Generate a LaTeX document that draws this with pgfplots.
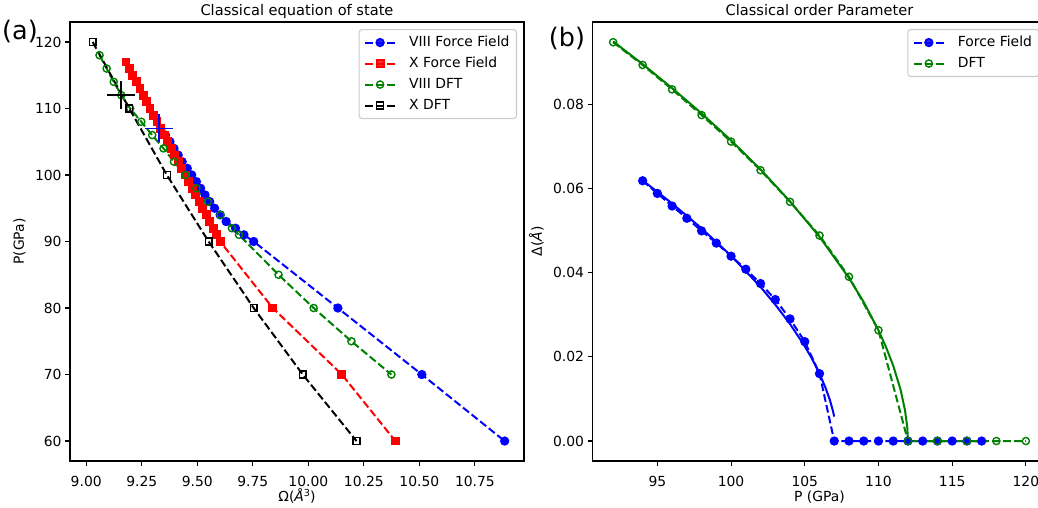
\documentclass[border=0pt]{standalone}
\usepackage{fontspec}
\setmainfont{DejaVu Sans}
\usepackage{pgfplots}
\pgfplotsset{compat=1.18}
\definecolor{mplgreen}{rgb}{0,0.5,0}
\tikzset{mpldash/.style={dash pattern=on 7.7pt off 3.3pt}}
\pgfplotsset{
  mplaxis/.style={
    scale only axis, width=454pt, height=439pt, anchor=south west,
    axis line style={line width=1.1pt, black},
    tick align=outside, tick pos=left,
    major tick length=4.9pt,
    every tick/.style={line width=1.1pt, black},
    /pgf/number format/assume math mode=true,
    tick label style={font=\fontsize{13.9}{16}\selectfont},
    xticklabel style={inner sep=1pt},
    xticklabel shift=9.1pt,
    label style={font=\fontsize{13.9}{16}\selectfont},
    xlabel style={at={(axis description cs:0.5,0)}, anchor=base, yshift=-40pt, inner sep=1pt},
    ylabel shift=2.5pt,
    title style={font=\fontsize{14.6}{17}\selectfont, at={(0.5,1)}, anchor=base, yshift=0.5pt},
    legend cell align=left,
    legend style={at={(1,1)}, anchor=north east, xshift=-7pt, yshift=-7pt,
      draw=black!20, line width=1.1pt, fill=white, fill opacity=0.8, text opacity=1,
      rounded corners=3pt, font=\fontsize{13.9}{16}\selectfont,
      inner xsep=5pt, inner ysep=4pt, row sep=3pt, column sep=11pt,
      nodes={inner sep=2pt, text depth=3.5pt, text height=10.5pt}},
    legend image code/.code={\draw[mark repeat=2, mark phase=2, ##1] plot coordinates {(0pt,0pt) (15pt,0pt) (30pt,0pt)};},
  },
}
\begin{document}
\begin{tikzpicture}[x=1pt,y=1pt]
\path[use as bounding box] (0,0) rectangle (1038,507);
\node[font=\fontsize{25.5}{30}\selectfont] at (20,475) {(a)};
\node[font=\fontsize{25.5}{30}\selectfont] at (567,469) {(b)};
% ---------------- left panel ----------------
\begin{axis}[mplaxis, at={(70pt,46pt)},
  xmin=8.927, xmax=10.971, ymin=57, ymax=123,
  xtick={9,9.25,9.5,9.75,10,10.25,10.5,10.75},
  xticklabel={\pgfmathprintnumber[fixed,fixed zerofill,precision=2]{\tick}},
  ytick={60,70,80,90,100,110,120},
  xlabel={Ω(\textit{Å}\raisebox{0.36em}{\fontsize{9.7}{10}\selectfont 3})},
  ylabel={P(GPa)},
  title={Classical equation of state}]
\addplot[blue, line width=2pt, mpldash, mark=*, mark size=3.6pt, mark options={solid, fill=blue, draw=blue}] coordinates {
(9.357,106) (9.377,105) (9.395,104) (9.414,103) (9.432,102) (9.455,101) (9.475,100)
(9.496,99) (9.515,98) (9.535,97) (9.556,96) (9.578,95) (9.603,94) (9.630,93)
(9.672,92) (9.710,91) (9.754,90) (10.133,80) (10.511,70) (10.884,60)};
\addlegendentry{VIII Force Field}
\addplot[red, line width=2pt, mpldash, mark=square*, mark size=3.4pt, mark options={solid, fill=red, draw=red}] coordinates {
(9.179,117) (9.195,116) (9.210,115) (9.226,114) (9.242,113) (9.258,112) (9.273,111)
(9.287,110) (9.303,109) (9.319,108) (9.335,107) (9.351,106) (9.367,105) (9.383,104)
(9.399,103) (9.415,102) (9.430,101) (9.446,100) (9.462,99) (9.478,98) (9.493,97)
(9.509,96) (9.525,95) (9.540,94) (9.556,93) (9.572,92) (9.587,91) (9.603,90)
(9.840,80) (10.151,70) (10.392,60)};
\addlegendentry{X Force Field}
\addplot[mplgreen, line width=2pt, mpldash, mark=o, mark size=3.6pt, mark options={solid, line width=1.4pt, fill=none}] coordinates {
(9.060,118) (9.092,116) (9.124,114) (9.158,112) (9.198,110) (9.248,108) (9.297,106)
(9.348,104) (9.395,102) (9.446,100) (9.496,98) (9.548,96) (9.605,94) (9.656,92)
(9.688,91) (9.866,85) (10.024,80) (10.194,75) (10.374,70)};
\addlegendentry{VIII DFT}
\addplot[black, line width=2pt, mpldash, mark=square, mark size=3.4pt, mark options={solid, line width=1.4pt, fill=none}] coordinates {
(9.029,120) (9.194,110) (9.363,100) (9.551,90) (9.754,80) (9.975,70) (10.217,60)};
\addlegendentry{X DFT}
\addplot[black, only marks, mark=+, mark size=14pt, mark options={line width=1.8pt}, forget plot] coordinates {(9.157,112)};
\addplot[blue, only marks, mark=+, mark size=14pt, mark options={line width=1.8pt}, forget plot] coordinates {(9.328,107)};
\end{axis}
% ---------------- right panel ----------------
\begin{axis}[mplaxis, at={(592.5pt,46pt)},
  xmin=90.6, xmax=121.4, ymin=-0.00474, ymax=0.0995,
  xtick={95,100,105,110,115,120},
  ytick={0,0.02,0.04,0.06,0.08}, scaled y ticks=false,
  yticklabel={\pgfmathprintnumber[fixed,fixed zerofill,precision=2]{\tick}},
  xlabel={P (GPa)},
  ylabel={Δ(\textit{Å})},
  title={Classical order Parameter}]
\addplot[blue, line width=2pt, mpldash, mark=*, mark size=3.6pt, mark options={solid, fill=blue, draw=blue}] coordinates {
(94,0.0618) (95,0.0588) (96,0.0558) (97,0.0529) (98,0.0499) (99,0.0470) (100,0.0439)
(101,0.0408) (102,0.0374) (103,0.0336) (104,0.0290) (105,0.0236) (106,0.0160)
(107,0) (108,0) (109,0) (110,0) (111,0) (112,0) (113,0) (114,0) (115,0) (116,0) (117,0)};
\addlegendentry{Force Field}
\addplot[blue, line width=2pt, forget plot] coordinates {
(94,0.0619) (96,0.0564) (98,0.0505) (100,0.0440) (102,0.0366) (103,0.0324)
(104,0.0278) (105,0.0225) (105.5,0.0195) (106,0.0160) (106.4,0.0127)
(106.7,0.0098) (106.9,0.0073) (107.0,0.0058)};
\addplot[mplgreen, line width=2pt, mpldash, mark=o, mark size=3.6pt, mark options={solid, line width=1.4pt, fill=none}] coordinates {
(92,0.0947) (94,0.0893) (96,0.0835) (98,0.0774) (100,0.0711) (102,0.0643) (104,0.0568)
(106,0.0488) (108,0.0390) (110,0.0263) (112,0) (114,0) (116,0) (118,0) (120,0)};
\addlegendentry{DFT}
\addplot[mplgreen, line width=2pt, forget plot] coordinates {
(92,0.0949) (94,0.0895) (96,0.0838) (98,0.0778) (100,0.0714) (102,0.0645) (104,0.0569)
(106,0.0485) (108,0.0387) (109,0.0330) (110,0.0263) (110.5,0.0224) (111,0.0179)
(111.5,0.0122) (111.8,0.0073) (111.95,0.0034) (112,0) (117,0)};
\end{axis}
\end{tikzpicture}
\end{document}
